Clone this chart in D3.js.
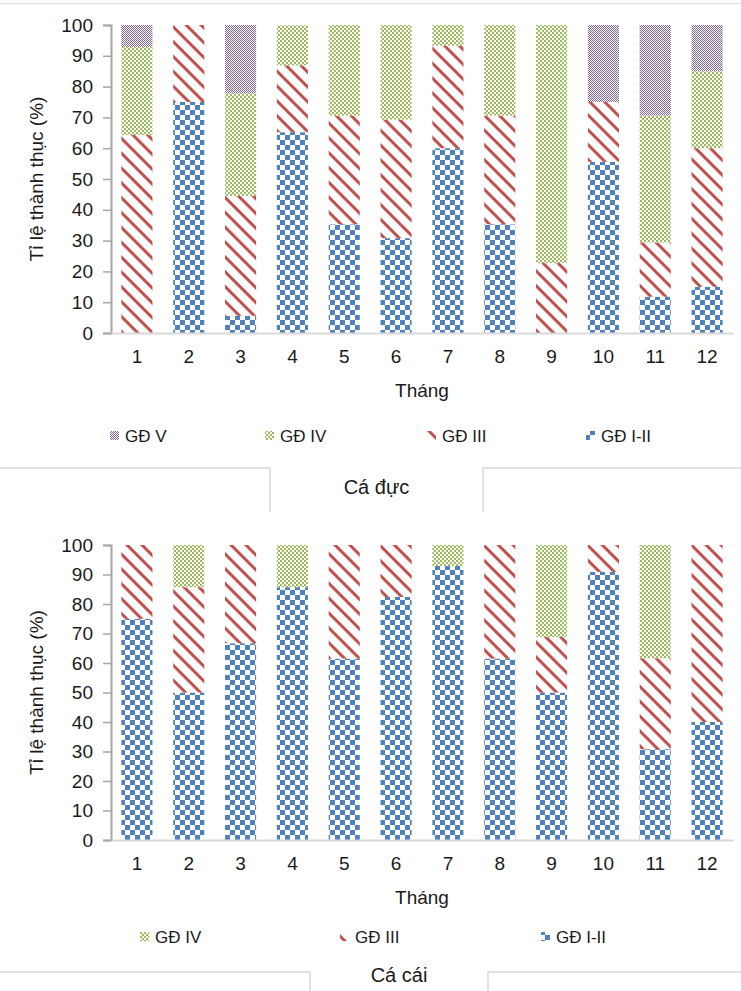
<!DOCTYPE html>
<html><head><meta charset="utf-8">
<script src="https://cdn.jsdelivr.net/npm/d3@7"></script>
<style>
body{margin:0;background:#fff;}
svg{display:block;}
text{font-family:"Liberation Sans",Arial,sans-serif;fill:#1a1a1a;}
</style>
</head><body>
<svg id="c" width="741" height="991"></svg>
<script>
// ---- data ----
const months = ["1","2","3","4","5","6","7","8","9","10","11","12"];
const yTicks = [0,10,20,30,40,50,60,70,80,90,100];
const yTitle = "Tỉ lệ thành thục (%)";
const xTitle = "Tháng";

// Cá đực (male)
const male_I_II = [0, 75, 5.6, 65.2, 35.3, 30.8, 60, 35.3, 0, 55.6, 11.8, 15];
const male_III  = [64.3, 25, 38.9, 21.7, 35.3, 38.5, 33.3, 35.3, 22.7, 19.4, 17.6, 45];
const male_IV   = [28.6, 0, 33.3, 13.0, 29.4, 30.8, 6.7, 29.4, 77.3, 0, 41.2, 25];
const male_V    = [7.1, 0, 22.2, 0, 0, 0, 0, 0, 0, 25, 29.4, 15];

// Cá cái (female)
const female_I_II = [75, 50, 66.7, 85.7, 61.5, 82.4, 92.9, 61.5, 50, 90.9, 30.8, 40];
const female_III  = [25, 35.7, 33.3, 0, 38.5, 17.6, 0, 38.5, 18.8, 9.1, 30.8, 60];
const female_IV   = [0, 14.3, 0, 14.3, 0, 0, 7.1, 0, 31.2, 0, 38.5, 0];

const stageNames = {I_II:"GĐ I-II", III:"GĐ III", IV:"GĐ IV", V:"GĐ V"};
const maleLegend = ["V","IV","III","I_II"];
const femaleLegend = ["IV","III","I_II"];

// ---- drawing ----
const svg = d3.select("#c");
const defs = svg.append("defs");
const col = {I_II:"#4F81BD", III:"#C0504D", IV:"#9BBB59", V:"#8064A2"};

// blue large checkerboard
{const p = defs.append("pattern").attr("id","pI_II").attr("patternUnits","userSpaceOnUse").attr("width",10).attr("height",10);
 p.append("rect").attr("width",10).attr("height",10).attr("fill","#fff");
 p.append("rect").attr("x",0).attr("y",0).attr("width",5).attr("height",5).attr("fill",col.I_II);
 p.append("rect").attr("x",5).attr("y",5).attr("width",5).attr("height",5).attr("fill",col.I_II);}
// red wide diagonal stripes
{const p = defs.append("pattern").attr("id","pIII").attr("patternUnits","userSpaceOnUse").attr("width",10.5).attr("height",10.5).attr("patternTransform","rotate(45)");
 p.append("rect").attr("width",10.5).attr("height",10.5).attr("fill","#fff");
 p.append("rect").attr("x",0).attr("y",0).attr("width",10.5).attr("height",3).attr("fill",col.III);}
// green small checkerboard
{const p = defs.append("pattern").attr("id","pIV").attr("patternUnits","userSpaceOnUse").attr("width",4).attr("height",4);
 p.append("rect").attr("width",4).attr("height",4).attr("fill","#fff");
 p.append("rect").attr("x",0).attr("y",0).attr("width",2).attr("height",2).attr("fill",col.IV);
 p.append("rect").attr("x",2).attr("y",2).attr("width",2).attr("height",2).attr("fill",col.IV);}
// purple fine checker
{const p = defs.append("pattern").attr("id","pV").attr("patternUnits","userSpaceOnUse").attr("width",2).attr("height",2);
 p.append("rect").attr("width",2).attr("height",2).attr("fill","#fff");
 p.append("rect").attr("x",0).attr("y",0).attr("width",1).attr("height",1).attr("fill",col.V);
 p.append("rect").attr("x",1).attr("y",1).attr("width",1).attr("height",1).attr("fill",col.V);}

// top border line
svg.append("line").attr("x1",0).attr("x2",741).attr("y1",3.5).attr("y2",3.5).attr("stroke","#e3e3e3").attr("stroke-width",1.5);

function panel(cfg){
  const g = svg.append("g");
  const x = d3.scaleBand().domain(months).range([111,733]).paddingInner(0.4).paddingOuter(0.2);
  const y = d3.scaleLinear().domain([0,100]).range([cfg.y0, cfg.y1]);
  const rows = months.map((m,i)=>{const r={month:m}; cfg.keys.forEach(k=>r[k]=cfg.series[k][i]); return r;});
  const stack = d3.stack().keys(cfg.keys)(rows);
  g.selectAll("g.s").data(stack).join("g").attr("class","s")
    .attr("fill",d=>"url(#p"+d.key+")")
    .selectAll("rect").data(d=>d.filter(v=>v[1]-v[0]>0)).join("rect")
    .attr("x",d=>x(d.data.month)).attr("width",x.bandwidth())
    .attr("y",d=>y(Math.min(100,d[1]))).attr("height",d=>y(d[0])-y(Math.min(100,d[1])));

  // y axis
  const ya = g.append("g").attr("transform","translate(111,0)")
    .call(d3.axisLeft(y).tickValues(yTicks).tickSize(8).tickPadding(10));
  ya.select(".domain").attr("stroke","#a6a6a6").attr("stroke-width",2);
  ya.selectAll(".tick line").attr("stroke","#a6a6a6").attr("stroke-width",1.5);
  ya.selectAll(".tick text").attr("font-size",19).attr("font-family","Liberation Sans, Arial").attr("fill","#1a1a1a");

  // x axis
  const xa = g.append("g").attr("transform",`translate(0,${cfg.y0})`)
    .call(d3.axisBottom(x).tickSize(0).tickPadding(17));
  xa.select(".domain").attr("stroke","#d9d9d9").attr("stroke-width",2);
  xa.selectAll(".tick text").attr("font-size",19).attr("font-family","Liberation Sans, Arial").attr("fill","#1a1a1a");

  g.append("text").attr("x",422).attr("y",cfg.y0+64).attr("text-anchor","middle").attr("font-size",19).text(xTitle);
  g.append("text").attr("transform",`translate(43,${(cfg.y0+cfg.y1)/2}) rotate(-90)`).attr("text-anchor","middle").attr("font-size",19).text(yTitle);

  // legend
  cfg.legend.forEach((k,i)=>{
    const lx = cfg.legendX[i];
    g.append("rect").attr("x",lx).attr("y",cfg.legendY-5).attr("width",9).attr("height",9).attr("fill","url(#p"+k+")");
    g.append("text").attr("x",lx+15).attr("y",cfg.legendY+6).attr("font-size",17).text(stageNames[k]);
  });

  // frame with label
  const b = cfg.box;
  g.append("path").attr("d",`M0,${b.y} H${b.l} V${b.y2} M${b.r},${b.y2} V${b.y} H741`)
    .attr("fill","none").attr("stroke","#d9d9d9").attr("stroke-width",1.5);
  g.append("text").attr("x",(b.l+b.r)/2).attr("y",b.ty).attr("text-anchor","middle").attr("font-size",20).text(cfg.label);
}

panel({
  y0:333, y1:25,
  keys:["I_II","III","IV","V"],
  series:{I_II:male_I_II, III:male_III, IV:male_IV, V:male_V},
  legend:maleLegend, legendX:[110,265,427,586], legendY:436,
  box:{y:468, l:270, r:483, y2:512, ty:494},
  label:"Cá đực"
});
panel({
  y0:840, y1:545,
  keys:["I_II","III","IV"],
  series:{I_II:female_I_II, III:female_III, IV:female_IV},
  legend:femaleLegend, legendX:[140,340,541], legendY:937,
  box:{y:972, l:310, r:488, y2:991, ty:982},
  label:"Cá cái"
});
</script>
</body></html>
